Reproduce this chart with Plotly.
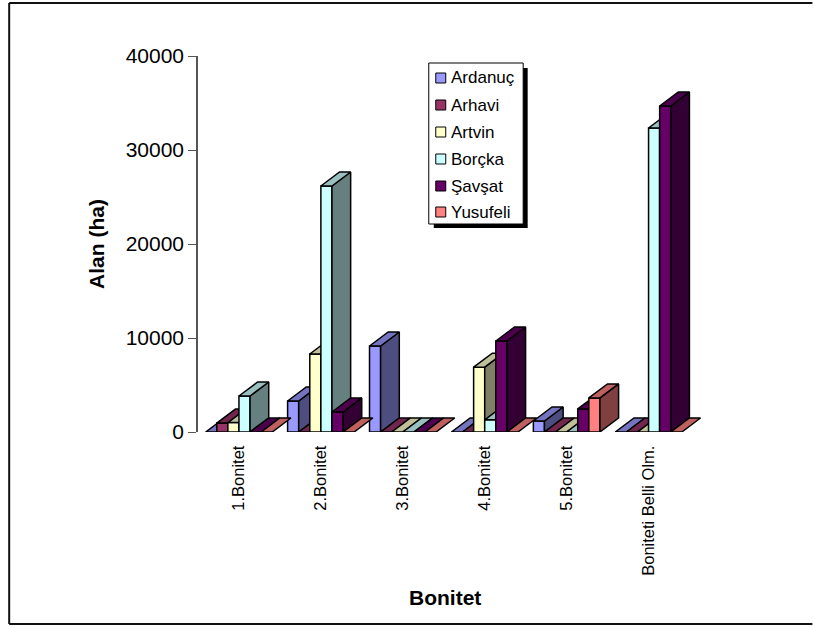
import plotly.graph_objects as go

categories = ["1.Bonitet", "2.Bonitet", "3.Bonitet", "4.Bonitet", "5.Bonitet", "Boniteti Belli Olm."]
series_names = ["Ardanuç", "Arhavi", "Artvin", "Borçka", "Şavşat", "Yusufeli"]
ardanuc = [0, 3300, 9150, 0, 1170, 0]
arhavi = [950, 0, 0, 0, 0, 0]
artvin = [1000, 8300, 0, 6900, 0, 0]
borcka = [3830, 26170, 0, 1300, 0, 32340]
savsat = [0, 2130, 0, 9680, 2450, 34680]
yusufeli = [0, 0, 0, 0, 3620, 0]
series_values = [ardanuc, arhavi, artvin, borcka, savsat, yusufeli]

front_colors = ["#9999FF", "#993366", "#FFFFCC", "#CCFFFF", "#660066", "#FF8080"]
top_colors = ["#7373BF", "#73264D", "#BFBF99", "#99BFBF", "#4D004D", "#BF6060"]
side_colors = ["#4D4D80", "#4D1A33", "#808066", "#668080", "#330033", "#804040"]

W, H = 813, 628
L, R, T, B = 198, 710.5, 56, 432
X_RANGE = [-0.5, 5.75]
BAR_W = 0.1354
DEPTH_X = 0.228
DEPTH_Y = 1490
EDGE = dict(color="black", width=1.5)


def px(x):
    return (x - L) / (R - L)


def py(y):
    return (B - y) / (B - T)


fig = go.Figure()
for s, (name, values) in enumerate(zip(series_names, series_values)):
    suffix = "" if s == 0 else str(s + 1)
    xa, ya = "x" + suffix, "y" + suffix
    offset = -3 * BAR_W + s * BAR_W
    xs = list(range(len(categories)))
    fig.add_trace(go.Bar(x=xs, y=values, name=name, width=BAR_W, offset=offset,
                         marker=dict(color=front_colors[s], line=EDGE), cliponaxis=False,
                         xaxis=xa, yaxis=ya, showlegend=False,
                         customdata=categories, hovertemplate="%{customdata}: %{y}<extra>" + name + "</extra>"))
    top_x, top_y, side_x, side_y = [], [], [], []
    for c, v in zip(xs, values):
        x0 = c + offset
        x1 = x0 + BAR_W
        top_x += [x0, x1, x1 + DEPTH_X, x0 + DEPTH_X, x0, None]
        top_y += [v, v, v + DEPTH_Y, v + DEPTH_Y, v, None]
        if v > 0:
            side_x += [x1, x1 + DEPTH_X, x1 + DEPTH_X, x1, x1, None]
            side_y += [0, DEPTH_Y, v + DEPTH_Y, v, 0, None]
    for fx, fy, col in ((side_x, side_y, side_colors[s]), (top_x, top_y, top_colors[s])):
        if fx:
            fig.add_trace(go.Scatter(x=fx, y=fy, mode="lines", fill="toself", fillcolor=col,
                                     line=EDGE, cliponaxis=False, xaxis=xa, yaxis=ya,
                                     showlegend=False, hoverinfo="skip"))

layout = dict(
    width=W, height=H,
    margin=dict(l=L, r=W - R, t=T, b=H - B, pad=0),
    autosize=False,
    paper_bgcolor="white", plot_bgcolor="white",
    font=dict(family="Liberation Sans", color="black"),
    showlegend=False,
    barmode="overlay",
    xaxis=dict(range=X_RANGE, tickmode="array", tickvals=list(range(len(categories))),
               ticktext=categories, tickangle=-90, tickfont=dict(size=16.5),
               ticks="outside", ticklen=6, tickcolor="white", showgrid=False, zeroline=False,
               showline=False),
    yaxis=dict(range=[0, 40000], tickvals=[0, 10000, 20000, 30000, 40000], tickfont=dict(size=21),
               ticks="outside", ticklen=8, tickcolor="#555555", tickwidth=1.3, showgrid=False,
               zeroline=False, showline=True, linecolor="#555555", linewidth=1.5,
               tickformat="d",
               title=dict(text="<b>Alan (ha)</b>", font=dict(size=21), standoff=15)),
)
for s in range(1, 6):
    n = str(s + 1)
    layout["xaxis" + n] = dict(range=X_RANGE, overlaying="x", visible=False, anchor="y" + n)
    layout["yaxis" + n] = dict(range=[0, 40000], overlaying="y", visible=False, anchor="x" + n)

frame = dict(color="#111111", width=2)
shapes = [
    dict(type="line", xref="paper", yref="paper", x0=px(9), x1=px(813), y0=py(3), y1=py(3), line=frame, layer="above"),
    dict(type="line", xref="paper", yref="paper", x0=px(9), x1=px(813), y0=py(624), y1=py(624), line=frame, layer="above"),
    dict(type="line", xref="paper", yref="paper", x0=px(9), x1=px(9), y0=py(3), y1=py(624), line=frame, layer="above"),
    dict(type="rect", xref="paper", yref="paper", x0=px(434), x1=px(528), y0=py(68), y1=py(228),
         line=dict(width=0), fillcolor="black", layer="above"),
    dict(type="rect", xref="paper", yref="paper", x0=px(429), x1=px(523.5), y0=py(63), y1=py(224),
         line=dict(color="black", width=1), fillcolor="white", layer="above"),
]
legend_rows = [78, 105, 132, 159, 186, 212]
annotations = [dict(xref="paper", yref="paper", x=px(445), y=py(597), text="<b>Bonitet</b>", showarrow=False,
                    xanchor="center", yanchor="middle", font=dict(size=21, color="black"))]
for name, col, yc in zip(series_names, front_colors, legend_rows):
    shapes.append(dict(type="rect", xref="paper", yref="paper", x0=px(436), x1=px(446),
                       y0=py(yc - 5), y1=py(yc + 5), line=dict(color="black", width=1),
                       fillcolor=col, layer="above"))
    annotations.append(dict(xref="paper", yref="paper", x=px(449), y=py(yc), text=name, showarrow=False,
                            xanchor="left", yanchor="middle", font=dict(size=17, color="black")))
layout["shapes"] = shapes
layout["annotations"] = annotations
fig.update_layout(**layout)

fig.write_html("out.html", config={"displayModeBar": False}, post_script="document.body.style.margin='0';")
